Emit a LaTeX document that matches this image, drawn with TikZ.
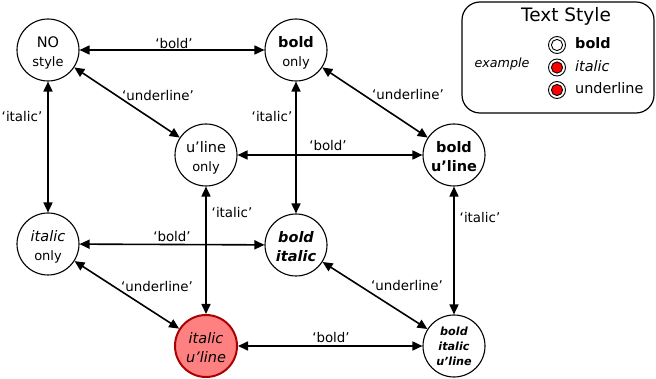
\documentclass[tikz,border=0pt]{standalone}
\usepackage{fontspec}
\setmainfont{DejaVu Sans}
\usetikzlibrary{arrows.meta}

\definecolor{hotfill}{HTML}{FF8080}
\definecolor{hotdraw}{HTML}{AA0000}
\definecolor{iconred}{HTML}{FF0000}

% smaller second line of a state name
\newcommand\minorline[1]{{\fontsize{13}{18.5}\selectfont #1}}
% two centred lines, first baseline slightly above the node centre
\newcommand\pair[2]{\rule[-16pt]{0pt}{28pt}%
  \smash{\begin{tabular}[t]{@{}c@{}}#1\\#2\end{tabular}}}

\tikzset{
  state/.style={circle, draw, line width=1.1pt, minimum size=62pt, inner sep=0pt,
    fill=white, font=\fontsize{14.5}{18.5}\selectfont},
  hot/.style={fill=hotfill, draw=hotdraw, line width=2pt},
  link/.style={line width=1.6pt,
    {Triangle[length=10pt,width=9pt]}-{Triangle[length=10pt,width=9pt]}},
  lbl/.style={inner sep=0pt, font=\fontsize{13.4}{15}\selectfont},
  icon/.style={circle, draw, line width=0.9pt, minimum size=17pt, inner sep=0pt,
    fill=white,
    path picture={\draw[line width=0.9pt, fill=#1]
      (path picture bounding box.center) circle (5.6pt);}},
  legtxt/.style={anchor=west, inner sep=0pt, font=\fontsize{14.4}{16}\selectfont}
}

\begin{document}
\begin{tikzpicture}[x=1pt, y=-1pt]
\useasboundingbox (0,0) rectangle (656,379);

% style states: corners of a cube
\node[state] (none) at (48,50)  {\pair{NO}{\minorline{style}}};
\node[state] (b)    at (296,50) {\pair{\bfseries bold}{\minorline{only}}};
\node[state] (u)    at (206,155) {\pair{u’line}{\minorline{only}}};
\node[state] (bu)   at (454,155) {\pair{\bfseries bold}{\bfseries u’line}};
\node[state] (i)    at (48,244) {\pair{\itshape italic}{\minorline{only}}};
\node[state] (bi)   at (296,245) {\pair{\bfseries\itshape bold}{\bfseries\itshape italic}};
\node[state, hot] (iu) at (206,346) {\pair{\itshape italic}{\itshape u’line}};
\node[state, align=center, font=\fontsize{11.2}{15}\selectfont\bfseries\itshape]
  (biu) at (454,346) {bold\\italic\\u’line};

% transitions
\draw[link] (none) -- (b);
\draw[link] (none) -- (i);
\draw[link] (none) -- (u);
\draw[link] (b) -- (bi);
\draw[link] (b) -- (bu);
\draw[link] (u) -- (bu);
\draw[link] (u) -- (iu);
\draw[link] (bu) -- (biu);
\draw[link] (i) -- (bi);
\draw[link] (i) -- (iu);
\draw[link] (bi) -- (biu);
\draw[link] (iu) -- (biu);

% transition labels
\node[lbl] (l1)  at (174,44)  {‘bold’};
\node[lbl] (l2)  at (22,117)  {‘italic’};
\node[lbl] (l3)  at (158,96)  {‘underline’};
\node[lbl] (l4)  at (272,117) {‘italic’};
\node[lbl] (l5)  at (408,95)  {‘underline’};
\node[lbl] (l6)  at (328,146) {‘bold’};
\node[lbl] (l7)  at (232,213) {‘italic’};
\node[lbl] (l8)  at (480,218) {‘italic’};
\node[lbl] (l9)  at (172,237) {‘bold’};
\node[lbl] (l10) at (157,287) {‘underline’};
\node[lbl] (l11) at (407,286) {‘underline’};
\node[lbl] (l12) at (331,338) {‘bold’};

% legend
\node[draw, line width=1.2pt, rounded corners=18pt, minimum width=192pt,
  minimum height=111pt, inner sep=0pt] (legend) at (558,57.5) {};
\node[inner sep=0pt, font=\fontsize{18.5}{20}\selectfont] (ltitle) at (566,16) {Text Style};
\node[inner sep=0pt, font=\fontsize{12.7}{14}\selectfont\itshape] (lex) at (502,64) {example};
\node[icon=white]   (ib) at (557,45) {};
\node[icon=iconred] (ii) at (557,67.5) {};
\node[icon=iconred] (iw) at (557,90) {};
\node[legtxt] (tb) at (575,43.5) {\bfseries bold};
\node[legtxt] (ti) at (575,66) {\itshape italic};
\node[legtxt] (tw) at (575,88.5) {underline};
\end{tikzpicture}
\end{document}
